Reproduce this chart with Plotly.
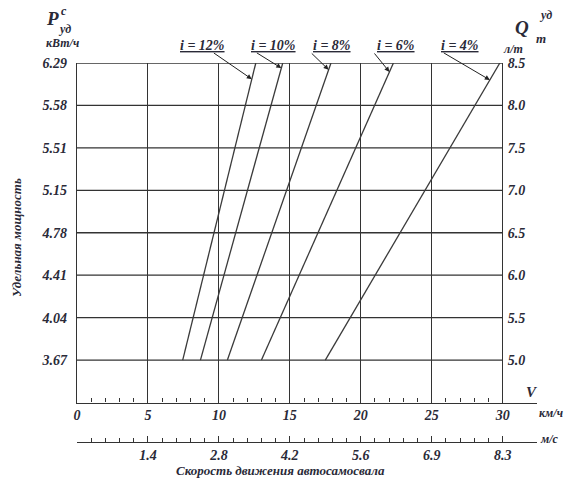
import plotly.graph_objects as go

# ---------------- data ----------------
speed_kmh_ticks = [0, 5, 10, 15, 20, 25, 30]
speed_ms_labels = ["1.4", "2.8", "4.2", "5.6", "6.9", "8.3"]
power_labels = ["3.67", "4.04", "4.41", "4.78", "5.15", "5.51", "5.58", "6.29"]
fuel_labels = ["5.0", "5.5", "6.0", "6.5", "7.0", "7.5", "8.0", "8.5"]
grades = ["i = 12%", "i = 10%", "i = 8%", "i = 6%", "i = 4%"]
speed_at_min = [7.45, 8.7, 10.6, 13.0, 17.5]     # km/h at P = 3.67
speed_at_max = [12.6, 14.5, 17.9, 22.3, 29.8]    # km/h at P = 6.29

# ---------------- style / layout constants ----------------
FONT = "Liberation Serif"
TXT = "#2a2a38"
LINE = "#333333"
L, R, T, B = 77, 29, 63, 37
W, H = 566, 479
PW, PH = W - L - R, H - T - B
XMAX = 32.42
levels = list(range(1, len(power_labels) + 1))
YMAX = len(power_labels)
ydom0 = (442 - 402.5) / PH

def fnt(size):
    return dict(family=FONT, size=size, color=TXT, weight="bold", style="italic")

def bi(s):
    return "<b><i>" + s + "</i></b>"

def px(xp):
    return (xp - L) / PW

def py(yp):
    return (H - B - yp) / PH

fig = go.Figure()

for g, a, b in zip(grades, speed_at_min, speed_at_max):
    fig.add_trace(go.Scatter(x=[a, b], y=[levels[0], levels[-1]], mode="lines",
                             line=dict(color="#3a3a3a", width=1.3),
                             name=g, showlegend=False, hoverinfo="skip"))

# invisible traces so secondary axes render
fig.add_trace(go.Scatter(x=[None], y=[None], xaxis="x2", yaxis="y", showlegend=False))
fig.add_trace(go.Scatter(x=[None], y=[None], xaxis="x", yaxis="y2", showlegend=False))

# horizontal grid lines (0..30 only)
shapes = []
for lv in levels:
    shapes.append(dict(type="line", xref="x", yref="y", x0=0, x1=speed_kmh_ticks[-1],
                       y0=lv, y1=lv, line=dict(color=LINE, width=1.3), layer="below"))

annotations = []

def txt(xp, yp, s, size, xanchor="center", angle=0):
    annotations.append(dict(x=px(xp), y=py(yp), xref="paper", yref="paper", text=bi(s),
                            showarrow=False, font=fnt(size), xanchor=xanchor,
                            yanchor="middle", textangle=angle))

# grade labels with arrows
label_px = [202, 273, 332, 396, 460]
tail_x = [9.54, 12.57, 16.44, 20.88, 25.74]
target_lv = [7.62, 7.88, 7.84, 7.79, 7.60]
for g, a, b, lx, tx, tl in zip(grades, speed_at_min, speed_at_max, label_px, tail_x, target_lv):
    txt(lx, 45, "<u>" + g + "</u>", 14)
    hx = a + (b - a) * (tl - levels[0]) / (levels[-1] - levels[0])
    annotations.append(dict(x=hx, y=tl, xref="x", yref="y", ax=tx, ay=8.26,
                            axref="x", ayref="y", text="", showarrow=True,
                            arrowhead=2, arrowsize=1, arrowwidth=1,
                            arrowcolor="#222", standoff=0))

txt(52, 19, "P", 19)
txt(64, 11, "c", 12)
txt(64, 29, "уд", 12)
txt(62, 43, "кВт/ч", 12)
txt(522, 28, "Q", 19)
txt(545, 15, "уд", 12)
txt(541, 38, "т", 13)
txt(513, 49, "л/т", 12)
txt(532, 392, "V", 15)
txt(537, 413, "км/ч", 12, xanchor="left")
txt(538, 439, "м/с", 12, xanchor="left")
txt(280, 470, "Скорость движения автосамосвала", 13)
txt(16, 237, "Удельная мощность", 13, angle=-90)

minor_kmh = [v for v in range(1, 30) if v % 5 != 0]
minor_ms = [0] + minor_kmh

TF = fnt(14)
fig.update_layout(
    width=W, height=H,
    margin=dict(l=L, r=R, t=T, b=B, pad=0),
    plot_bgcolor="white", paper_bgcolor="white",
    showlegend=False,
    font=fnt(13),
    shapes=shapes,
    annotations=annotations,
    xaxis=dict(domain=[0, 1], range=[0, XMAX], anchor="y",
               showline=True, linecolor=LINE, linewidth=1.3,
               tickmode="array", tickvals=speed_kmh_ticks,
               ticktext=[bi(str(v)) for v in speed_kmh_ticks],
               ticks="inside", ticklen=5, tickcolor=LINE, tickwidth=1.2,
               minor=dict(tickmode="array", tickvals=minor_kmh, ticks="inside",
                          ticklen=4, tickcolor=LINE, tickwidth=1.2, showgrid=False),
               showgrid=True, gridcolor=LINE, gridwidth=1.3, zeroline=False,
               tickfont=TF),
    xaxis2=dict(overlaying="x", anchor="free", position=0, side="bottom",
                range=[0, XMAX], showline=True, linecolor=LINE, linewidth=1.3,
                tickmode="array", tickvals=speed_kmh_ticks[1:],
                ticktext=[bi(s) for s in speed_ms_labels],
                ticks="inside", ticklen=6, tickcolor=LINE, tickwidth=1.2,
                minor=dict(tickmode="array", tickvals=minor_ms, ticks="inside",
                           ticklen=4, tickcolor=LINE, tickwidth=1.2, showgrid=False),
                showgrid=False, zeroline=False, tickfont=TF),
    yaxis=dict(domain=[ydom0, 1], range=[0, YMAX], showline=True, linecolor=LINE,
               linewidth=1.3, tickmode="array", tickvals=levels,
               ticktext=[bi(s) for s in power_labels],
               ticks="", showgrid=False, zeroline=False, tickfont=TF,
               ticklabelstandoff=6),
    yaxis2=dict(overlaying="y", anchor="free", position=speed_kmh_ticks[-1] / XMAX,
                side="right", range=[0, YMAX], showline=False,
                tickmode="array", tickvals=levels, ticktext=[bi(s) for s in fuel_labels],
                ticks="", showgrid=False, zeroline=False, tickfont=TF,
                ticklabelstandoff=4),
)

fig.write_html("out.html")
